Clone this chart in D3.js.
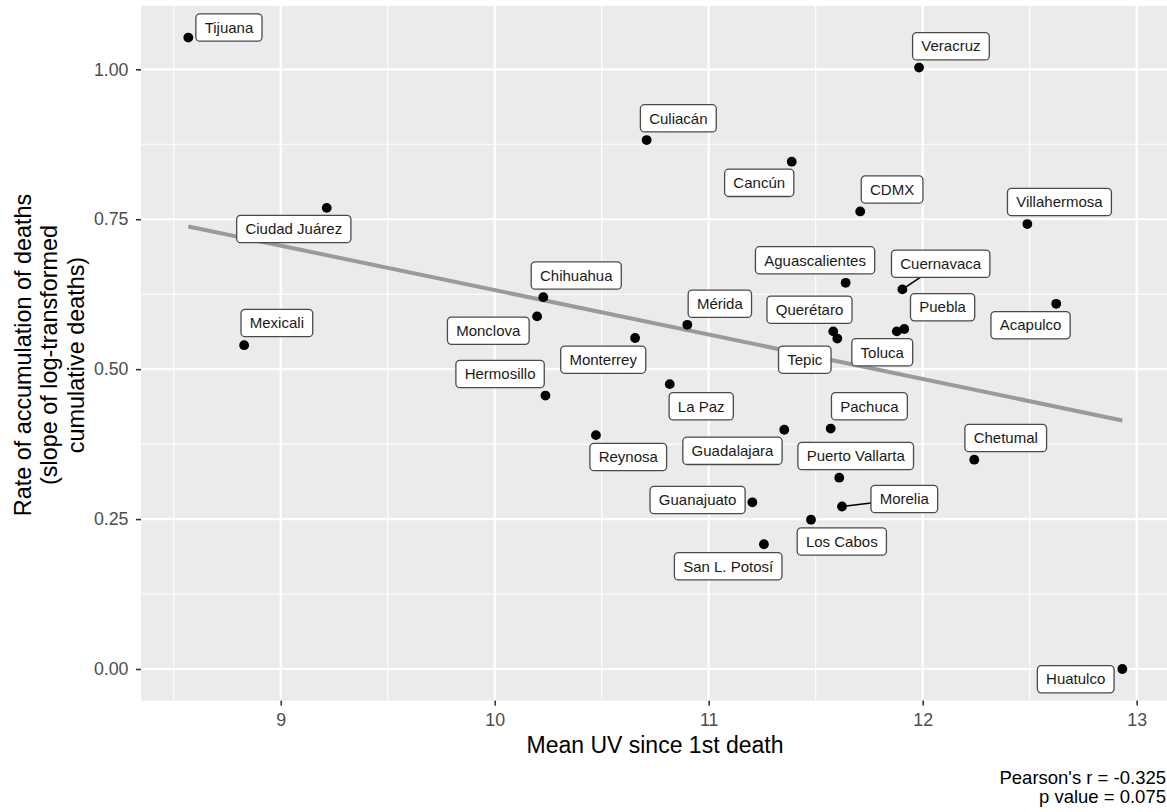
<!DOCTYPE html>
<html><head><meta charset="utf-8">
<script src="https://cdn.jsdelivr.net/npm/d3@7"></script>
<style>
body{margin:0;background:#fff}
svg{display:block}
text{font-family:"Liberation Sans",Arial,Helvetica,sans-serif}
</style>
</head><body>
<svg id="c" width="1167" height="812"></svg>
<script>
// ---- data ----
const cities = ["Tijuana","Ciudad Juárez","Mexicali","Culiacán","Cancún","Chihuahua","Veracruz","CDMX",
  "Villahermosa","Aguascalientes","Cuernavaca","Monclova","Mérida","Monterrey","La Paz","Hermosillo",
  "Reynosa","Guadalajara","Guanajuato","San L. Potosí","Querétaro","Tepic","Toluca","Puebla","Acapulco",
  "Pachuca","Puerto Vallarta","Morelia","Los Cabos","Chetumal","Huatulco"];
const meanUV = [8.568,9.215,8.829,10.710,11.388,10.227,11.983,11.708,
  12.489,11.640,11.905,10.198,10.900,10.656,10.818,10.237,
  10.473,11.353,11.204,11.258,11.582,11.601,11.879,11.914,12.624,
  11.570,11.610,11.623,11.478,12.241,12.933];
const deathRate = [1.053,0.769,0.540,0.882,0.846,0.620,1.003,0.763,
  0.742,0.644,0.633,0.588,0.574,0.552,0.475,0.456,
  0.390,0.399,0.278,0.208,0.563,0.551,0.563,0.567,0.609,
  0.401,0.319,0.271,0.249,0.349,0.000];
// repelled label centres (data units)
const labelUV = [8.758,9.061,8.982,10.858,11.236,10.381,12.132,11.857,
  12.639,11.497,12.084,9.970,11.052,10.507,10.965,10.025,
  10.624,11.111,10.948,11.091,11.471,11.449,11.811,12.093,12.504,
  11.751,11.687,11.914,11.622,12.388,12.715];
const labelRate = [1.0697,0.7337,0.5770,0.9183,0.8107,0.6562,1.0385,0.7996,
  0.7787,0.6815,0.6758,0.5641,0.6091,0.5158,0.4381,0.4919,
  0.3535,0.3638,0.2818,0.1713,0.5991,0.5158,0.5281,0.6033,0.5733,
  0.4381,0.3552,0.2835,0.2126,0.3852,-0.0170];
const segmentCities = ["Cuernavaca","Morelia"];
const fitUV = [8.568, 12.933];
const fitRate = [0.738, 0.4145];
const xTicks = [9,10,11,12,13];
const xMinor = [8.5,9.5,10.5,11.5,12.5];
const yTicks = [0,0.25,0.5,0.75,1.0];
const yMinor = [0.125,0.375,0.625,0.875];
const xTitle = "Mean UV since 1st death";
const yTitle = ["Rate of accumulation of deaths","(slope of log-transformed","cumulative deaths)"];
const statsText = ["Pearson's r = -0.325","p value = 0.075"];

// ---- layout ----
const svg = d3.select("#c");
const P = {left:141, right:1169, top:6, bottom:700.6};
const x = d3.scaleLinear().domain([8.347, 13.151]).range([P.left, P.right]);
const y = d3.scaleLinear().domain([-0.0527, 1.1056]).range([P.bottom, P.top]);

// panel
svg.append("rect").attr("x",P.left).attr("y",P.top)
  .attr("width",P.right-P.left).attr("height",P.bottom-P.top).attr("fill","#EBEBEB");

const grid = svg.append("g");
grid.selectAll(".xm").data(xMinor).join("line")
  .attr("x1",d=>x(d)).attr("x2",d=>x(d)).attr("y1",P.top).attr("y2",P.bottom)
  .attr("stroke","#fff").attr("stroke-width",1.1);
grid.selectAll(".ym").data(yMinor).join("line")
  .attr("y1",d=>y(d)).attr("y2",d=>y(d)).attr("x1",P.left).attr("x2",P.right)
  .attr("stroke","#fff").attr("stroke-width",1.1);
grid.selectAll(".xM").data(xTicks).join("line")
  .attr("x1",d=>x(d)).attr("x2",d=>x(d)).attr("y1",P.top).attr("y2",P.bottom)
  .attr("stroke","#fff").attr("stroke-width",2.2);
grid.selectAll(".yM").data(yTicks).join("line")
  .attr("y1",d=>y(d)).attr("y2",d=>y(d)).attr("x1",P.left).attr("x2",P.right)
  .attr("stroke","#fff").attr("stroke-width",2.2);

// axes
const ax = svg.append("g").attr("transform",`translate(0,${P.bottom})`)
  .call(d3.axisBottom(x).tickValues(xTicks).tickFormat(d3.format("d")).tickSize(5).tickPadding(7.4));
const ay = svg.append("g").attr("transform",`translate(${P.left},0)`)
  .call(d3.axisLeft(y).tickValues(yTicks).tickFormat(d3.format(".2f")).tickSize(5).tickPadding(7.5));
[ax,ay].forEach(g=>{
  g.select(".domain").remove();
  g.selectAll(".tick line").attr("stroke","#333").attr("stroke-width",1.6);
  g.selectAll(".tick text").attr("fill","#4D4D4D").style("font-size","17.8px")
   .style("font-family","'Liberation Sans',Arial,sans-serif");
});

// titles
svg.append("text").attr("x",(P.left+P.right)/2).attr("y",753).attr("text-anchor","middle")
  .style("font-size","23px").attr("fill","#000").text(xTitle);
const yBase = [30.8, 57.3, 83.7];
yTitle.forEach((t,i)=>{
  svg.append("text").attr("transform",`translate(${yBase[i]},355) rotate(-90)`)
    .attr("text-anchor","middle").style("font-size","23.4px").attr("fill","#000").text(t);
});

// fit line
const fit = fitUV.map((u,i)=>[u,fitRate[i]]);
svg.append("path").datum(fit)
  .attr("d",d3.line().x(d=>x(d[0])).y(d=>y(d[1])))
  .attr("stroke","#9A9A9A").attr("stroke-width",4).attr("fill","none");

// data rows
const rows = cities.map((c,i)=>({city:c, uv:meanUV[i], rate:deathRate[i], lu:labelUV[i], lr:labelRate[i]}));

// points
svg.append("g").selectAll("circle").data(rows).join("circle")
  .attr("cx",d=>x(d.uv)).attr("cy",d=>y(d.rate)).attr("r",4.9).attr("fill","#000");

// labels
const lg = svg.append("g");
const padX = 8.75, boxH = 27.3;
rows.forEach(d=>{
  const cx = x(d.lu), cy = y(d.lr);
  const g = lg.append("g");
  const rect = g.append("rect");
  const t = g.append("text").attr("x",cx).attr("y",cy).attr("dy","0.35em")
    .attr("text-anchor","middle").style("font-size","15px").attr("fill","#1a1a1a").text(d.city);
  const w = t.node().getComputedTextLength() + 2*padX;
  rect.attr("x",cx-w/2).attr("y",cy-boxH/2).attr("width",w).attr("height",boxH)
    .attr("rx",4).attr("ry",4).attr("fill","#fff").attr("stroke","#4a4a4a").attr("stroke-width",1.3);
  if (segmentCities.includes(d.city)) {
    const px = x(d.uv), py = y(d.rate);
    const dx = cx-px, dy = cy-py;
    const tx = dx!==0 ? (Math.abs(dx)-w/2)/Math.abs(dx) : Infinity;
    const ty = dy!==0 ? (Math.abs(dy)-boxH/2)/Math.abs(dy) : Infinity;
    const tt = Math.min(1, Math.max(tx, ty));
    lg.insert("line", ":first-child").attr("x1",px).attr("y1",py).attr("x2",px+dx*tt).attr("y2",py+dy*tt)
      .attr("stroke","#000").attr("stroke-width",1.6);
  }
});

// stats caption
statsText.forEach((s,i)=>{
  svg.append("text").attr("x",1166).attr("y",784+i*19).attr("text-anchor","end")
    .style("font-size","18.5px").attr("fill","#000").text(s);
});
</script>
</body></html>
